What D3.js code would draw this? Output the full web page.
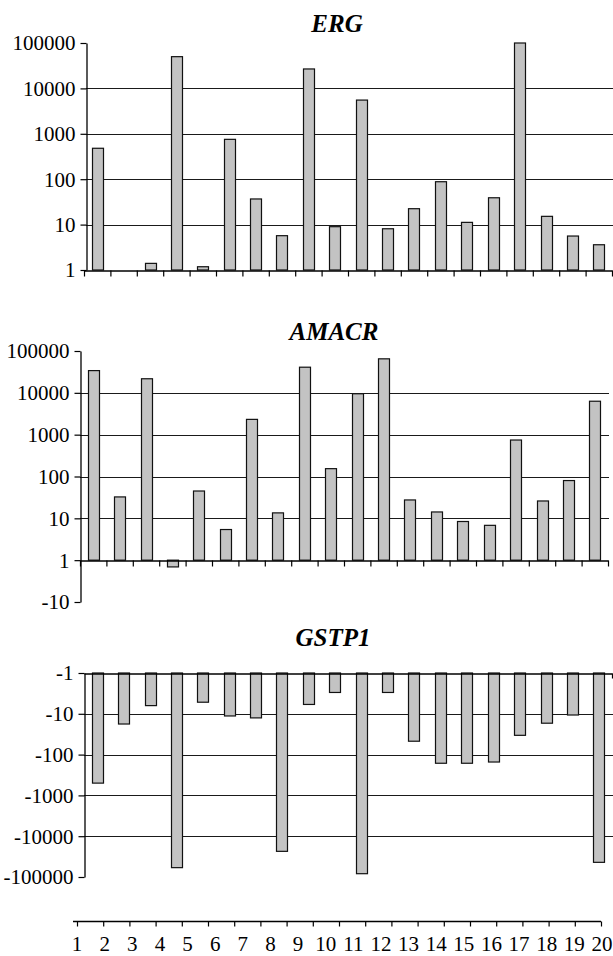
<!DOCTYPE html>
<html>
<head>
<meta charset="utf-8">
<script src="https://cdn.jsdelivr.net/npm/d3@7"></script>
<style>
  html, body { margin: 0; padding: 0; background: #fff; }
  svg { display: block; }
  svg text { font-family: "Liberation Serif", Tinos, "Times New Roman", serif; fill: #000; }
</style>
</head>
<body>
<script>
// ---------- data ----------
const categories = [1, 2, 3, 4, 5, 6, 7, 8, 9, 10, 11, 12, 13, 14, 15, 16, 17, 18, 19, 20];
const ergValues   = [480, 1, 1.4, 50000, 1.18, 755, 36.7, 5.7, 26800, 9.0, 5530, 8.1, 22.4, 88, 11.2, 39, 100000, 15.2, 5.6, 3.6];
const amacrValues = [34000, 32.5, 21700, -1.45, 45, 5.4, 2320, 13.5, 41000, 154, 9500, 65000, 27.5, 14.2, 8.4, 6.8, 745, 26, 80, 6300];
const gstp1Values = [-500, -17.8, -6.3, -59000, -5.2, -11.3, -12.6, -23500, -5.9, -3.0, -83000, -3.0, -47, -163, -163, -152, -33.7, -17, -10.7, -43700];
const ergTicks   = [1, 10, 100, 1000, 10000, 100000];
const amacrTicks = [-10, 1, 10, 100, 1000, 10000, 100000];
const gstp1Ticks = [-1, -10, -100, -1000, -10000, -100000];
const ergGrid   = [10, 100, 1000, 10000];
const amacrGrid = [10, 100, 1000, 10000];
const gstp1Grid = [-10, -100, -1000, -10000];

// fold-change transform: +v -> log10(v), -v -> -log10(v), with ±1 at 0
const fc = v => v >= 1 ? Math.log10(v) : (v <= -1 ? -Math.log10(-v) : 0);

const SERIF = '"Liberation Serif", Tinos, "Times New Roman", serif';
const W = 613, H = 956;
const svg = d3.select("body").append("svg").attr("width", W).attr("height", H)
  .attr("font-family", SERIF);

function panel(opt) {
  const g = svg.append("g");
  const y = d3.scaleLinear().domain(opt.tDomain).range(opt.yRange);
  const x = d3.scaleBand().domain(categories).range(opt.xRange).padding(0);
  const edge = d3.scaleLinear().domain([0, categories.length]).range(opt.xRange);
  const barW = 11;

  // gridlines
  g.append("g").selectAll("line").data(opt.grid).join("line")
    .attr("x1", opt.axisX).attr("x2", opt.xRange[1] + 1)
    .attr("y1", d => Math.round(y(fc(d))) + 0.5).attr("y2", d => Math.round(y(fc(d))) + 0.5)
    .attr("stroke", "#1a1a1a").attr("stroke-width", 1);

  // bars
  const base = y(0);
  g.append("g").selectAll("rect").data(opt.values).join("rect")
    .attr("x", (d, i) => Math.round(x(categories[i]) + x.bandwidth() / 2 - barW / 2) + 0.5)
    .attr("width", barW)
    .attr("y", d => Math.min(y(fc(d)), base))
    .attr("height", d => Math.abs(y(fc(d)) - base))
    .attr("fill", "#c3c3c3").attr("stroke", "#111").attr("stroke-width", 1.2)
    .style("display", d => fc(d) === 0 ? "none" : null);

  // x axis along the 1 / -1 line
  const xa = g.append("g").attr("transform", `translate(0,${Math.round(base) + 0.5})`)
    .call(d3.axisBottom(edge).tickValues(opt.xTicks ? d3.range(categories.length + 1) : [categories.length])
      .tickFormat("").tickSize(opt.xTicks ? 6 : 5).tickSizeOuter(0));
  xa.select(".domain").attr("stroke", "#000").attr("stroke-width", 1.3);
  xa.selectAll(".tick line").attr("stroke", "#000").attr("stroke-width", 1.2);

  // y axis
  const ya = g.append("g").attr("transform", `translate(${opt.axisX + 0.5},0)`)
    .call(d3.axisLeft(y).tickValues(opt.ticks.map(fc))
      .tickFormat((d, i) => String(opt.ticks[i])).tickSize(6).tickSizeOuter(0).tickPadding(5));
  ya.attr("font-family", SERIF).attr("font-size", 21);
  ya.select(".domain").attr("stroke", "#000").attr("stroke-width", 1.3);
  ya.selectAll(".tick line").attr("stroke", "#000").attr("stroke-width", 1.2);
  ya.selectAll(".tick text")
    .style("font-family", SERIF)
    .style("font-size", "21px").attr("fill", "#000").attr("dy", "0.33em");

  // title
  g.append("text").attr("x", opt.titleX).attr("y", opt.titleY)
    .attr("text-anchor", "middle")
    .style("font-family", SERIF)
    .style("font-size", "25px").style("font-weight", "bold").style("font-style", "italic")
    .text(opt.title);
}

panel({ title: "ERG", titleX: 337, titleY: 32, values: ergValues, ticks: ergTicks, grid: ergGrid,
        tDomain: [0, 5], yRange: [270, 43], xRange: [84, 612], axisX: 86, xTicks: true });
panel({ title: "AMACR", titleX: 334, titleY: 340, values: amacrValues, ticks: amacrTicks, grid: amacrGrid,
        tDomain: [-1, 5], yRange: [602, 351], xRange: [80, 608], axisX: 80, xTicks: true });
panel({ title: "GSTP1", titleX: 333, titleY: 646, values: gstp1Values, ticks: gstp1Ticks, grid: gstp1Grid,
        tDomain: [-5, 0], yRange: [877, 673], xRange: [84, 612], axisX: 84, xTicks: false });

// separate bottom category axis
const tickScale = d3.scaleLinear().domain([0, categories.length]).range([77, 601]);
const bx = svg.append("g").attr("transform", "translate(0,921.5)")
  .call(d3.axisBottom(tickScale).tickValues(d3.range(categories.length + 1)).tickFormat("").tickSize(5).tickSizeOuter(0));
bx.select(".domain").attr("d", "M73,0H601").attr("stroke", "#000").attr("stroke-width", 1.3);
bx.selectAll(".tick line").attr("stroke", "#000").attr("stroke-width", 1.2);

const labelScale = d3.scalePoint().domain(categories).range([77, 602]);
svg.append("g").selectAll("text").data(categories).join("text")
  .attr("x", d => labelScale(d)).attr("y", 951)
  .attr("text-anchor", "middle")
  .style("font-family", SERIF).style("font-size", "21px")
  .text(d => d);
</script>
</body>
</html>
